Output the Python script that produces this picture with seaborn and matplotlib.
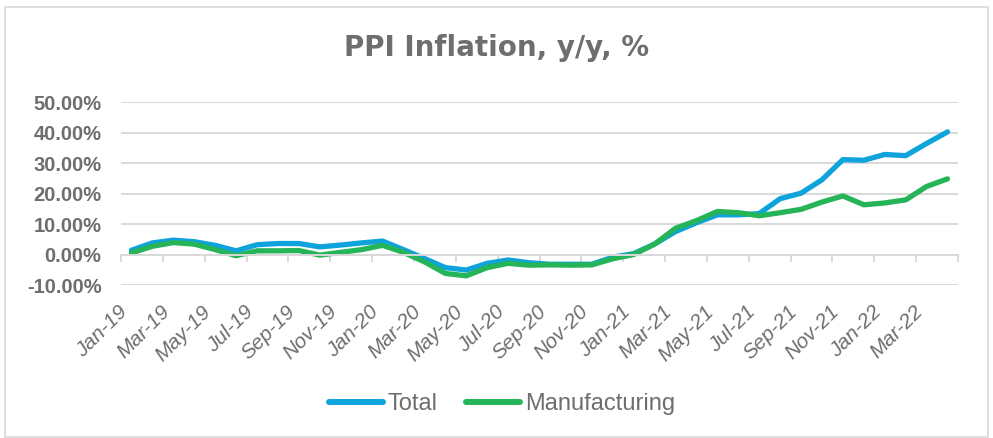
import matplotlib
matplotlib.use("Agg")
import matplotlib.pyplot as plt
import matplotlib.transforms as mtransforms
import seaborn as sns
import pandas as pd
import numpy as np
from matplotlib.patches import Rectangle
from matplotlib.ticker import FixedLocator, FuncFormatter

months = ["Jan-19", "Feb-19", "Mar-19", "Apr-19", "May-19", "Jun-19", "Jul-19", "Aug-19",
          "Sep-19", "Oct-19", "Nov-19", "Dec-19", "Jan-20", "Feb-20", "Mar-20", "Apr-20",
          "May-20", "Jun-20", "Jul-20", "Aug-20", "Sep-20", "Oct-20", "Nov-20", "Dec-20",
          "Jan-21", "Feb-21", "Mar-21", "Apr-21", "May-21", "Jun-21", "Jul-21", "Aug-21",
          "Sep-21", "Oct-21", "Nov-21", "Dec-21", "Jan-22", "Feb-22", "Mar-22", "Apr-22"]

total = [1.5, 3.9, 4.8, 4.3, 3.1, 1.3, 3.3, 3.7, 3.7, 2.6,
         3.2, 3.9, 4.5, 1.7, -1.2, -4.2, -5.0, -2.8, -1.7, -2.6,
         -3.1, -3.1, -3.1, -0.8, 0.4, 3.5, 7.6, 10.5, 13.1, 13.1,
         13.5, 18.4, 20.2, 24.6, 31.2, 31.0, 32.9, 32.5, 36.5, 40.3]

manufacturing = [0.6, 2.8, 4.0, 3.5, 1.7, -0.3, 1.3, 1.3, 1.4, -0.1,
                 0.8, 1.7, 3.1, 0.8, -2.3, -6.1, -6.9, -4.2, -2.8, -3.4,
                 -3.3, -3.4, -3.3, -1.3, 0.1, 3.5, 8.7, 11.2, 14.2, 13.8,
                 12.8, 13.8, 14.9, 17.3, 19.3, 16.4, 17.0, 18.0, 22.4, 24.9]

series_names = ["Total", "Manufacturing"]
colors = ["#0FA3DC", "#25B457"]
y_ticks = [-10, 0, 10, 20, 30, 40, 50]

df = pd.DataFrame({
    "idx": list(range(len(months))) * 2,
    "value": total + manufacturing,
    "series": [series_names[0]] * len(months) + [series_names[1]] * len(months),
})

sns.set_theme(style="white")
plt.rcParams['font.family'] = ['Liberation Sans', 'DejaVu Sans']

fig = plt.figure(figsize=(9.93, 4.38), dpi=100)
ax = fig.add_axes([121 / 993, 1 - 285.3 / 438, (958 - 121) / 993, (285.3 - 102.3) / 438])

sns.lineplot(data=df, x="idx", y="value", hue="series", palette=colors,
             hue_order=series_names, linewidth=3.8, ax=ax, legend=False,
             solid_capstyle="round", solid_joinstyle="round")

ax.set_xlim(-0.5, len(months) - 0.5)
ax.set_ylim(-10, 50)
ax.set_xlabel("")
ax.set_ylabel("")

grid_c = "#D9D9D9"
ax.set_yticks(y_ticks)
ax.yaxis.set_major_formatter(FuncFormatter(lambda v, p: f"{v:.2f}%"))
ax.grid(axis="y", color=grid_c, linewidth=1.4)
ax.grid(axis="x", visible=False)
ax.set_axisbelow(True)

for s in ["top", "right", "left"]:
    ax.spines[s].set_visible(False)
ax.spines["bottom"].set_position(("data", 0))
ax.spines["bottom"].set_color(grid_c)
ax.spines["bottom"].set_linewidth(1.4)

label_pos = list(range(0, len(months), 2))
ax.set_xticks(label_pos)
ax.set_xticklabels([months[i] for i in label_pos], rotation=45, ha="right",
                   fontstyle="italic", fontsize=15, color="#6E6E6E")
shift = mtransforms.ScaledTranslation(5 / 100, 0, fig.dpi_scale_trans)
for lab in ax.get_xticklabels():
    lab.set_transform(lab.get_transform() + shift)
ax.xaxis.set_minor_locator(FixedLocator(np.arange(-0.5, len(months), 2)))
ax.tick_params(axis="x", which="major", length=0, pad=34)
ax.tick_params(axis="x", which="minor", length=5, width=1.4, color=grid_c, direction="out", bottom=True)
ax.tick_params(axis="y", length=0, pad=14)
for lab in ax.get_yticklabels():
    lab.set_fontweight("bold")
    lab.set_fontsize(14.5)
    lab.set_color("#6E6E6E")

fig.text(0.5, 1 - 48 / 438, "PPI Inflation, y/y, %", ha="center", va="center",
         fontsize=20, fontweight="bold", color="#6E6E6E", family=["DejaVu Sans"])

handles = [plt.Line2D([], [], color=c, linewidth=4.3, solid_capstyle="round") for c in colors]
fig.legend(handles, series_names, loc="center", bbox_to_anchor=(502 / 993, 1 - 404 / 438),
           ncol=2, frameon=False, fontsize=17, handlelength=2.3, handletextpad=0.2,
           columnspacing=1.2, labelcolor="#6E6E6E")

fig.patches.append(Rectangle((5 / 993, 1 / 438), 983 / 993, 430 / 438, transform=fig.transFigure,
                             fill=False, edgecolor="#D9D9D9", linewidth=1.2))

fig.savefig("out.png", dpi=100, facecolor="white")
